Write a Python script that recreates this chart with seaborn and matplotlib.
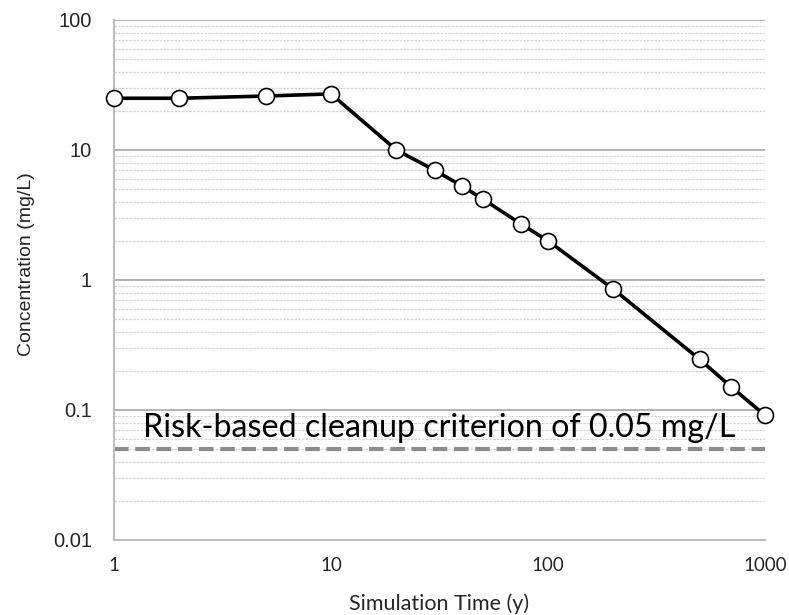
import matplotlib
matplotlib.use("Agg")
import matplotlib.pyplot as plt
import seaborn as sns
import pandas as pd
from matplotlib.ticker import LogLocator, FixedLocator, FixedFormatter, NullFormatter

time_y = [1, 2, 5, 10, 20, 30, 40, 50, 75, 100, 200, 500, 700, 1000]
conc = [25, 25, 26, 27, 10, 7.0, 5.3, 4.2, 2.7, 2.0, 0.85, 0.245, 0.15, 0.091]
criterion = 0.05
x_ticks = [1, 10, 100, 1000]
x_labels = ["1", "10", "100", "1000"]
y_ticks = [0.01, 0.1, 1, 10, 100]
y_labels = ["0.01", "0.1", "1", "10", "100"]
annotation = "Risk-based cleanup criterion of 0.05 mg/L"

sns.set_theme(style="white")
plt.rcParams['font.family'] = ['Lato', 'DejaVu Sans']

df = pd.DataFrame({"t": time_y, "c": conc})

fig = plt.figure(figsize=(7.89, 6.15), dpi=100)
ax = fig.add_axes([0.1445, 0.122, 0.8251, 0.8455])
ax.set_xscale("log")
ax.set_yscale("log")
ax.set_xlim(1, 1000)
ax.set_ylim(0.01, 100)

ax.yaxis.set_major_locator(FixedLocator(y_ticks))
ax.yaxis.set_major_formatter(FixedFormatter(y_labels))
ax.yaxis.set_minor_locator(LogLocator(base=10, subs=range(2, 10)))
ax.yaxis.set_minor_formatter(NullFormatter())
ax.xaxis.set_major_locator(FixedLocator(x_ticks))
ax.xaxis.set_major_formatter(FixedFormatter(x_labels))
ax.xaxis.set_minor_locator(FixedLocator([]))

ax.grid(True, which="major", axis="y", color="#a6a6a6", linewidth=1.2, linestyle="-")
ax.grid(True, which="minor", axis="y", color="#d4d4d4", linewidth=0.9, linestyle=(0, (2, 1)))
ax.grid(False, axis="x")
ax.set_axisbelow(True)

ax.axhline(criterion, color="#8c8c8c", linewidth=3.0, linestyle=(0, (3.5, 1.6)), zorder=2)

sns.lineplot(data=df, x="t", y="c", ax=ax, color="black", linewidth=2.6,
             marker="o", markersize=11.5, markerfacecolor="white",
             markeredgecolor="black", markeredgewidth=1.2, zorder=3, clip_on=False)

ax.text(1.36, 0.062, annotation, fontsize=23.2, color="black", ha="left", va="baseline")

for s in ["top", "right"]:
    ax.spines[s].set_visible(False)
for s in ["left", "bottom"]:
    ax.spines[s].set_color("#bdbdbd")
    ax.spines[s].set_linewidth(1.5)

ax.tick_params(axis="both", which="both", length=0)
ax.tick_params(axis="y", labelsize=14.5, pad=16)
ax.tick_params(axis="x", labelsize=13.5, pad=12)
for lab in ax.get_yticklabels():
    lab.set_family(['Liberation Sans', 'DejaVu Sans'])

ax.set_xlabel("Simulation Time (y)", fontsize=15.5, labelpad=14)
ax.set_ylabel("Concentration (mg/L)", fontsize=14, labelpad=19,
              family=['Liberation Sans', 'DejaVu Sans'])
ax.yaxis.set_label_coords(-0.122, 0.53)

fig.savefig("out.png", dpi=100)
